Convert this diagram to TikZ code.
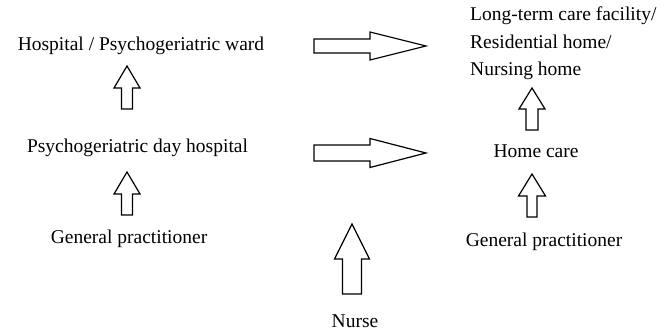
\documentclass[tikz,border=0pt]{standalone}
\usepackage{fontspec}
\setmainfont{Liberation Serif}
\usetikzlibrary{calc}

\tikzset{
    txt/.style={inner sep=0pt, font=\fontsize{19.5}{27.5}\selectfont},
    blockline/.style={draw, line width=1.2pt, line join=miter}
}

\newcommand\blockup[5]{%
    \draw[blockline] let \p1=#1, \p2=#2 in
        (\x1-#3,\y1) -- (\x1-#3,\y2-#5) -- (\x1-#4,\y2-#5) -- (\x1,\y2)
        -- (\x1+#4,\y2-#5) -- (\x1+#3,\y2-#5) -- (\x1+#3,\y1) -- cycle;}

\newcommand\blockright[5]{%
    \draw[blockline] let \p1=#1, \p2=#2 in
        (\x1,\y1+#3) -- (\x2-#5,\y1+#3) -- (\x2-#5,\y1+#4) -- (\x2,\y1)
        -- (\x2-#5,\y1-#4) -- (\x2-#5,\y1-#3) -- (\x1,\y1-#3) -- cycle;}

\begin{document}
\begin{tikzpicture}[x=1pt, y=-1pt]
            \useasboundingbox (0,0) rectangle (671,334);

            \node[txt, anchor=base] (hosp) at (141,51) {Hospital / Psychogeriatric ward};
            \node[txt, anchor=base] (day) at (137.5,152) {Psychogeriatric day hospital};
            \node[txt, anchor=base] (gpl) at (129,243) {General practitioner};

            \node[txt, anchor=base west, align=left] (ltc) at (470,76)
                {Long-term care facility/\\Residential home/\\Nursing home};
            \node[txt, anchor=base] (home) at (536,157) {Home care};
            \node[txt, anchor=base] (gpr) at (544,246) {General practitioner};

            \node[txt, anchor=base] (nurse) at (355,327) {Nurse};
            \coordinate (nursetip) at ($(nurse.base)+(-3,-103)$);

            \blockup{($(day.base)+(-10.5,-43)$)}{($(hosp.base)+(0,15)$)}{5.5pt}{13pt}{22pt}
            \blockup{($(gpl.base)+(-2,-28)$)}{($(day.base)+(0,20)$)}{5.5pt}{13pt}{22pt}

            \blockup{($(home.base)+(-4,-27)$)}{($(ltc.base)+(0,12)$)}{6pt}{13pt}{21pt}
            \blockup{($(gpr.base)+(-12,-29)$)}{($(home.base)+(0,17)$)}{5pt}{13.5pt}{22pt}

            \blockup{($(nurse.base)+(-3,-33)$)}{(nursetip)}{9.5pt}{17.5pt}{35pt}

            \blockright{($(hosp.base)+(173,-5)$)}{($(ltc.base west)+(-44,0)$)}{7pt}{14pt}{56pt}
            \blockright{($(day.base)+(176.5,1)$)}{($(home.base)+(-110,0)$)}{8pt}{14.5pt}{56pt}
        \end{tikzpicture}
\end{document}
